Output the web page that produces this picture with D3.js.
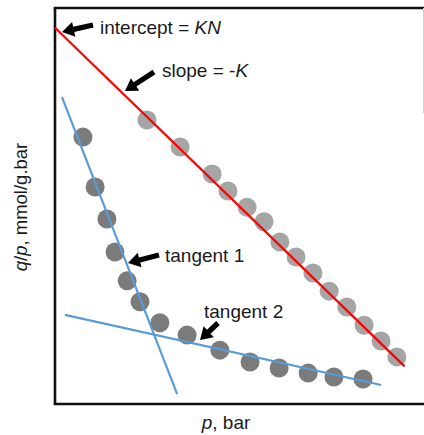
<!DOCTYPE html>
<html>
<head>
<meta charset="utf-8">
<script src="https://cdn.jsdelivr.net/npm/d3@7"></script>
<style>
  html, body { margin: 0; padding: 0; background: #fff; }
  svg { display: block; }
  text { font-family: "Liberation Sans", "DejaVu Sans", sans-serif; fill: #1a1a1a; }
</style>
</head>
<body>
<script>
// Linearised isotherm: q/p versus p
// Single-site data (light grey) follows a straight line with slope -K and intercept KN.
const singleP  = [2.50, 3.40, 4.27, 4.70, 5.22, 5.68, 6.11, 6.55, 7.01, 7.45, 7.93, 8.40, 8.86, 9.29];
const singleQP = [7.17, 6.49, 5.81, 5.38, 4.97, 4.60, 4.09, 3.71, 3.31, 2.85, 2.45, 1.99, 1.59, 1.19];

// Two-site data (dark grey) curves, described by two tangents.
const dualP  = [0.76, 1.09, 1.41, 1.63, 1.96, 2.31, 2.85, 3.59, 4.48, 5.30, 6.09, 6.88, 7.58, 8.37];
const dualQP = [6.74, 5.48, 4.67, 3.84, 3.11, 2.58, 2.05, 1.74, 1.36, 1.06, 0.91, 0.78, 0.68, 0.63];

// Fitted line (intercept KN, slope -K) and the two tangents, as end points [p, q/p]
const fitLine  = [[0.0, 9.50], [9.50, 0.95]];
const tangent1 = [[0.19, 7.75], [3.32, 0.25]];
const tangent2 = [[0.27, 2.25], [8.86, 0.48]];

// Annotation labels
const labelTexts = ["intercept = ", "slope = -", "tangent 1", "tangent 2"];
const labelItalics = ["KN", "K", "", ""];

const W = 424, H = 435;
const svg = d3.select("body").append("svg").attr("width", W).attr("height", H);

const x = d3.scaleLinear().domain([0, 10]).range([55, 423]);
const y = d3.scaleLinear().domain([0, 10]).range([404, 8]);

// Frame: left and bottom axes plus the top edge
const frame = svg.append("g").attr("stroke", "#111").attr("stroke-width", 2.6).attr("fill", "none");
frame.append("line").attr("x1", x(0)).attr("x2", x(0)).attr("y1", y(10)).attr("y2", y(0));
frame.append("line").attr("x1", x(0) - 1.3).attr("x2", W).attr("y1", y(0)).attr("y2", y(0));
frame.append("line").attr("x1", x(0) - 1.3).attr("x2", W).attr("y1", y(10)).attr("y2", y(10));
svg.append("line").attr("x1", 423.5).attr("x2", 423.5).attr("y1", y(10)).attr("y2", 113)
  .attr("stroke", "#d0d0d0").attr("stroke-width", 1);

// Points
const dot = (ps, qs, color) => svg.append("g").selectAll("circle")
  .data(d3.zip(ps, qs)).join("circle")
  .attr("cx", d => x(d[0])).attr("cy", d => y(d[1])).attr("r", 9.5)
  .attr("fill", color);
dot(singleP, singleQP, "#a5a5a5");
dot(dualP, dualQP, "#7b7b7b");

// Lines
const seg = (pts, color) => svg.append("line")
  .attr("x1", x(pts[0][0])).attr("y1", y(pts[0][1]))
  .attr("x2", x(pts[1][0])).attr("y2", y(pts[1][1]))
  .attr("stroke", color).attr("stroke-width", 2.2);
seg(tangent1, "#5b9bd5");
seg(tangent2, "#5b9bd5");
seg(fitLine, "#ff0000");

// Block arrows: tail -> tip in data space
function arrow(tail, tip) {
  const x0 = x(tail[0]), y0 = y(tail[1]), x1 = x(tip[0]), y1 = y(tip[1]);
  const dx = x1 - x0, dy = y1 - y0, L = Math.hypot(dx, dy);
  const ux = dx / L, uy = dy / L, nx = -uy, ny = ux;
  const hl = 12, hw = 7.5, sw = 2.6;
  const bx = x1 - ux * hl, by = y1 - uy * hl;
  const pts = [
    [x0 + nx * sw, y0 + ny * sw], [bx + nx * sw, by + ny * sw], [bx + nx * hw, by + ny * hw],
    [x1, y1],
    [bx - nx * hw, by - ny * hw], [bx - nx * sw, by - ny * sw], [x0 - nx * sw, y0 - ny * sw]
  ];
  svg.append("path").attr("d", "M" + pts.map(p => p.join(",")).join("L") + "Z").attr("fill", "#000");
}
arrow([x.invert(93), y.invert(25)], [x.invert(62), y.invert(32)]);
arrow([x.invert(154), y.invert(72)], [x.invert(125), y.invert(91)]);
arrow([x.invert(159), y.invert(255)], [x.invert(128), y.invert(263)]);
arrow([x.invert(218), y.invert(323)], [x.invert(200), y.invert(340)]);

// Labels
const labelPos = [[100, 34], [162, 77], [165, 262], [204, 318]];
labelTexts.forEach((t, i) => {
  const tx = svg.append("text").attr("x", labelPos[i][0]).attr("y", labelPos[i][1])
    .attr("font-size", 19);
  tx.append("tspan").text(t);
  if (labelItalics[i]) tx.append("tspan").attr("font-style", "italic").text(labelItalics[i]);
});

// Axis titles
const xt = svg.append("text").attr("x", 226).attr("y", 429).attr("text-anchor", "middle")
  .attr("font-size", 19);
xt.append("tspan").attr("font-style", "italic").text("p");
xt.append("tspan").text(", bar");

const yt = svg.append("text").attr("transform", "translate(27,207) rotate(-90)")
  .attr("text-anchor", "middle").attr("font-size", 18.5);
yt.append("tspan").attr("font-style", "italic").text("q");
yt.append("tspan").text("/");
yt.append("tspan").attr("font-style", "italic").text("p");
yt.append("tspan").text(", mmol/g.bar");
</script>
</body>
</html>
